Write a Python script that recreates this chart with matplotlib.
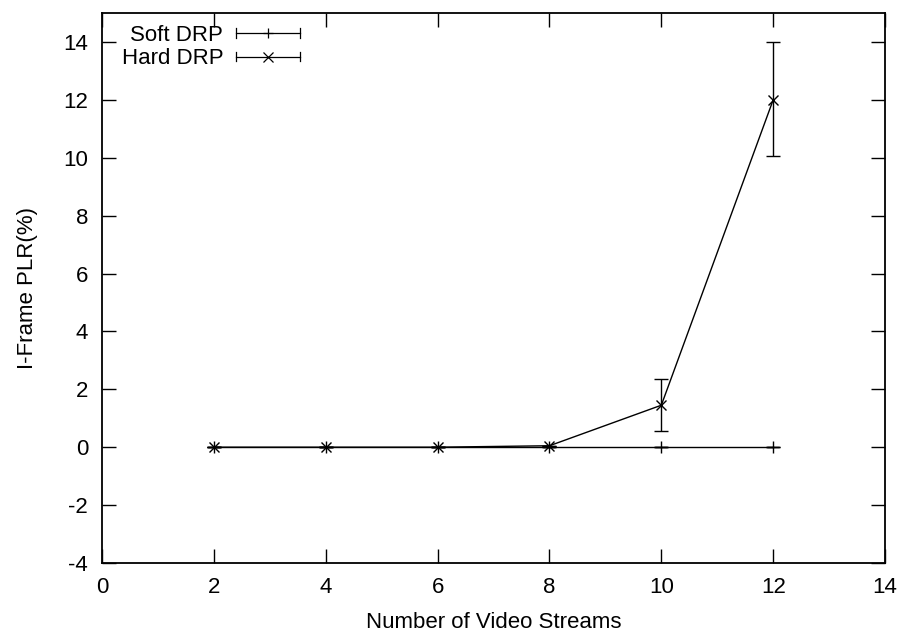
import matplotlib
matplotlib.use("Agg")
import matplotlib.pyplot as plt
from matplotlib.legend_handler import HandlerBase
from matplotlib.lines import Line2D

plt.rcParams["font.family"] = ["Liberation Sans", "DejaVu Sans"]
plt.rcParams["axes.unicode_minus"] = False

streams = [2, 4, 6, 8, 10, 12]
soft_plr = [0, 0, 0, 0, 0, 0]
soft_err = [0, 0, 0, 0, 0, 0]
hard_plr = [0, 0, 0, 0.05, 1.45, 12.0]
hard_low = [0, 0, 0, 0.05, 0.55, 10.05]
hard_high = [0, 0, 0, 0.05, 2.35, 14.0]

hard_err = [
	[p - lo for p, lo in zip(hard_plr, hard_low)],
	[hi - p for p, hi in zip(hard_plr, hard_high)],
]


class GnuplotErrHandler(HandlerBase):
	# gnuplot-style key sample: horizontal bar with end caps, point in the middle
	def __init__(self, marker):
		super().__init__()
		self.marker = marker

	def create_artists(self, legend, orig_handle, xdescent, ydescent,
					   width, height, fontsize, trans):
		y = height / 2 - ydescent
		cap = 3.5
		x0 = -xdescent
		x1 = width - xdescent
		line = Line2D([x0, x1], [y, y], color="black", lw=0.9)
		left = Line2D([x0, x0], [y - cap, y + cap], color="black", lw=0.9)
		right = Line2D([x1, x1], [y - cap, y + cap], color="black", lw=0.9)
		mark = Line2D([(x0 + x1) / 2], [y], marker=self.marker, color="black",
					  markersize=7, mew=0.9, linestyle="none")
		arts = [line, left, right, mark]
		for a in arts:
			a.set_transform(trans)
		return arts


fig = plt.figure(figsize=(9.07, 6.36), dpi=100)
ax = fig.add_axes([0.1125, 0.1148, 0.8633, 0.8648])

ax.errorbar(streams, soft_plr, yerr=soft_err, color="black", lw=1, marker="+",
			markersize=8, mew=1, capsize=5, elinewidth=1)
ax.errorbar(streams, hard_plr, yerr=hard_err, color="black", lw=1, marker="x",
			markersize=7, mew=1, capsize=5, elinewidth=1)

ax.set_xlim(0, 14)
ax.set_ylim(-4, 15)
ax.set_xticks(range(0, 15, 2))
ax.set_yticks(range(-4, 15, 2))
ax.tick_params(direction="in", top=True, right=True, length=10, width=1,
			   labelsize=16)
ax.tick_params(axis="x", pad=10)
ax.tick_params(axis="y", pad=10)
for s in ax.spines.values():
	s.set_linewidth(1.3)

ax.set_xlabel("Number of Video Streams", fontsize=16, labelpad=10)
ax.set_ylabel("I-Frame PLR(%)", fontsize=16, labelpad=18)

h1 = Line2D([], [], color="black")
h2 = Line2D([], [], color="black")
ax.legend([h1, h2], ["Soft DRP", "Hard DRP"], loc="upper left",
		  bbox_to_anchor=(0.005, 1.007), frameon=False, markerfirst=False,
		  fontsize=16, handlelength=2.85, handletextpad=0.6,
		  labelspacing=0.12, borderaxespad=0.3,
		  handler_map={h1: GnuplotErrHandler("+"), h2: GnuplotErrHandler("x")})

fig.savefig("out.png", dpi=100)
